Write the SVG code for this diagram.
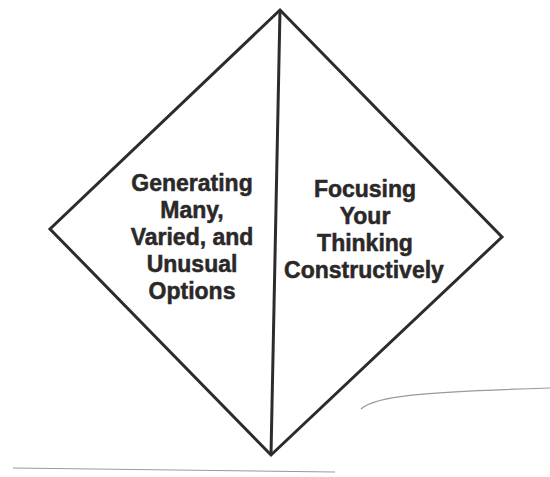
<svg xmlns="http://www.w3.org/2000/svg" width="550" height="477" viewBox="0 0 550 477">
<style>
.edge{fill:none;stroke:#2e2b2b;stroke-width:3;stroke-linejoin:miter}
.lbl{font-family:"Liberation Sans",Arial,sans-serif;font-weight:bold;font-size:23px;fill:#2a2828;stroke:#2a2828;stroke-width:0.5;text-anchor:middle}
.faint{fill:none;stroke:#9a9a9a;stroke-width:1.2}
</style>
<rect width="550" height="477" fill="#ffffff"/>
<g id="connectors">
<polygon class="edge" points="280,10 502,237 271,455 50,229"/>
<line class="edge" x1="280" y1="10" x2="271" y2="455"/>
<path class="faint" d="M13,468 L335,472"/>
<path class="faint" d="M361,409 C375,396 420,392 550,388"/>
</g>
<g id="node-left">
<text class="lbl" x="192" y="191">Generating</text>
<text class="lbl" x="192" y="218">Many,</text>
<text class="lbl" x="192" y="245">Varied, and</text>
<text class="lbl" x="192" y="272">Unusual</text>
<text class="lbl" x="192" y="299">Options</text>
</g>
<g id="node-right">
<text class="lbl" x="365" y="197">Focusing</text>
<text class="lbl" x="365" y="224">Your</text>
<text class="lbl" x="365" y="251">Thinking</text>
<text class="lbl" x="364" y="278">Constructively</text>
</g>
</svg>
